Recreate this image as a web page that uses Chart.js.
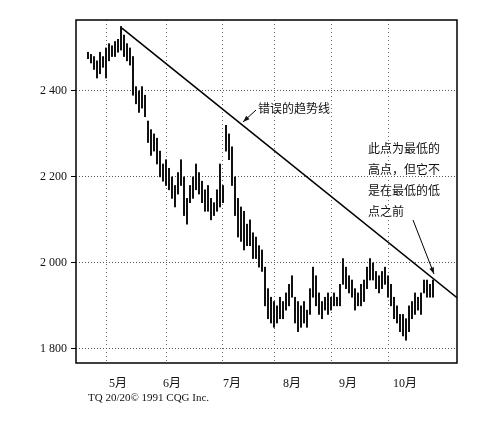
<!DOCTYPE html>
<html><head><meta charset="utf-8">
<script src="https://cdn.jsdelivr.net/npm/chart.js@4"></script>
<style>body{margin:0;background:#fff}</style></head>
<body><canvas id="c" width="500" height="425"></canvas>
<script>
const highs=[2490,2485,2480,2470,2490,2480,2500,2510,2505,2515,2520,2550,2530,2510,2500,2480,2410,2400,2410,2390,2330,2310,2300,2290,2260,2230,2240,2220,2200,2180,2210,2240,2200,2150,2180,2200,2230,2210,2190,2170,2180,2150,2140,2170,2230,2180,2320,2300,2270,2200,2150,2130,2120,2090,2100,2070,2060,2040,2030,1990,1940,1920,1910,1900,1920,1910,1930,1950,1970,1920,1910,1900,1910,1890,1940,1990,1970,1930,1910,1920,1930,1920,1930,1920,1950,2010,1990,1970,1960,1940,1930,1950,1960,1990,2010,2000,1980,1970,1980,1990,1970,1950,1920,1900,1880,1880,1870,1900,1910,1930,1920,1930,1960,1960,1950,1960];
const lows=[2475,2465,2450,2430,2440,2455,2430,2470,2480,2480,2490,2495,2480,2470,2460,2390,2370,2350,2360,2340,2280,2250,2260,2230,2200,2190,2180,2170,2150,2130,2160,2180,2110,2090,2140,2150,2170,2160,2140,2120,2120,2100,2110,2120,2130,2140,2260,2240,2180,2110,2060,2050,2030,2040,2040,2010,2010,1990,1980,1900,1870,1860,1850,1860,1870,1870,1890,1900,1920,1860,1840,1850,1860,1850,1880,1920,1900,1880,1870,1890,1880,1890,1900,1900,1900,1950,1940,1930,1920,1890,1900,1900,1910,1940,1960,1960,1940,1930,1940,1950,1920,1900,1870,1860,1840,1830,1820,1840,1870,1880,1890,1880,1930,1920,1920,1920];
const trendX=[11.3,123], trendY=[2546,1919];
const monthStarts=[6.3,26.3,44.7,62.3,81.3,100];
const monthLabelPos=[10,28,48,68,86.7,105.7];
const monthLabels=['5月','6月','7月','8月','9月','10月'];
const yTicks=[1800,2000,2200,2400];
const FONT='"Liberation Serif", "Noto Sans CJK SC", serif';

const bars=highs.map((h,i)=>({x:i,y:[lows[i],h]}));
const deco={id:'deco',afterDraw(ch){
  const c=ch.ctx,a=ch.chartArea;c.save();
  c.strokeStyle='#000';c.lineWidth=1.5;c.strokeRect(a.left,a.top,a.right-a.left,a.bottom-a.top);
  c.fillStyle='#111';c.font='12px '+FONT;c.textBaseline='middle';
  c.fillText('错误的趋势线',258,110);
  const t=['此点为最低的','高点，但它不','是在最低的低','点之前'];
  t.forEach((s,i)=>c.fillText(s,368,150+i*21));
  c.lineWidth=1;
  const arrow=(x1,y1,x2,y2)=>{c.beginPath();c.moveTo(x1,y1);c.lineTo(x2,y2);c.stroke();
    const an=Math.atan2(y2-y1,x2-x1);c.beginPath();c.moveTo(x2,y2);
    c.lineTo(x2-7*Math.cos(an-0.35),y2-7*Math.sin(an-0.35));c.lineTo(x2-7*Math.cos(an+0.35),y2-7*Math.sin(an+0.35));c.closePath();c.fill();};
  arrow(256,110,243,122);arrow(413,220,434,274);
  c.font='11px '+FONT;c.fillText('TQ 20/20© 1991 CQG Inc.',88,398);
  c.restore();}};
new Chart(document.getElementById('c'),{
  data:{datasets:[
    {type:'bar',data:bars,backgroundColor:'#111',barThickness:1.4,grouped:false},
    {type:'line',data:trendX.map((x,i)=>({x,y:trendY[i]})),borderColor:'#000',borderWidth:1.6,pointRadius:0}
  ]},
  options:{responsive:false,animation:false,
    layout:{padding:{left:0,right:43,top:20,bottom:37}},
    plugins:{legend:{display:false},tooltip:{enabled:false}},
    scales:{
      x:{type:'linear',min:-4,max:123,offset:false,
        afterBuildTicks(s){s.ticks=monthStarts.map(v=>({value:v}));},
        ticks:{display:false},border:{display:false,dash:[1,3]},
        grid:{color:'#666',lineWidth:1,tickLength:0,offset:false},afterFit(s){s.height=0;}},
      x2:{type:'linear',position:'bottom',min:-4,max:123,offset:false,
        afterBuildTicks(s){s.ticks=monthLabelPos.map(v=>({value:v}));},
        ticks:{callback:(v,i)=>monthLabels[i],font:{family:FONT,size:12},color:'#111',maxRotation:0,autoSkip:false,padding:6},
        grid:{display:false},border:{display:false},afterFit(s){s.height=25;}},
      y:{min:1767,max:2565,
        afterBuildTicks(s){s.ticks=yTicks.map(v=>({value:v}));},
        ticks:{callback:v=>String(v).replace(/(\d)(\d{3})$/,'$1 $2'),font:{family:FONT,size:12},color:'#111',padding:4},
        grid:{color:'#555',tickLength:5,tickColor:'#000'},border:{display:false,dash:[1,2]},
        afterFit(s){s.width=76;}}
    }},
  plugins:[deco]});
</script></body></html>
